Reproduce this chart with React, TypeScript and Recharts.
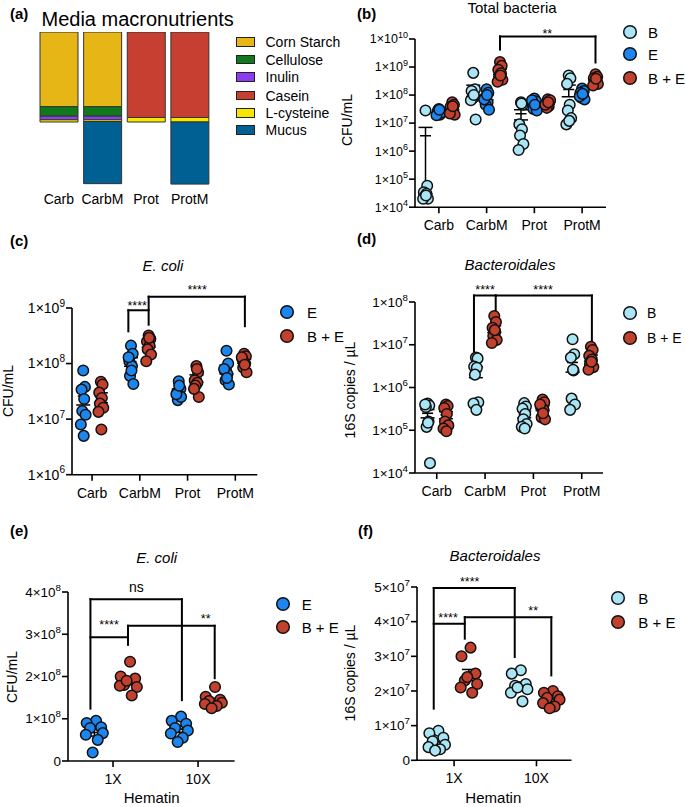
import React from 'react';
import {
  ScatterChart,
  Scatter,
  BarChart,
  Bar,
  XAxis,
  YAxis,
  ReferenceLine,
  ReferenceDot,
  ErrorBar,
} from 'recharts';

const FONT = '"Liberation Sans", Arial, Helvetica, sans-serif';
const INK = '#111';
const COL_B = '#A9E5F4';
const COL_E = '#1C86EE';
const COL_BE = '#C1402E';
const AXIS = { stroke: '#000', strokeWidth: 1.6 };

// ---- (a) media macronutrients (relative amounts) ----
const mediaCats = ['Carb', 'CarbM', 'Prot', 'ProtM'];
const mediaParts = ['Corn Starch', 'Cellulose', 'Inulin', 'Casein', 'L-cysteine', 'Mucus'];
const mediaColors = ['#E6B516', '#10791C', '#8B3DF2', '#C63F30', '#F6E600', '#005F93'];
const cornStarch = [83, 83, 0, 0];
const cellulose = [10.5, 10.5, 0, 0];
const inulin = [4, 4, 0, 0];
const casein = [0, 0, 95, 95];
const lCysteine = [2.5, 2, 5, 5];
const mucus = [0, 69, 0, 69];

// ---- (b) total bacteria, CFU/mL ----
const totalB = [
  [2.8e7, 5.8e4, 3.4e4, 3e4, 2.4e4, 2e4, 2e4, 2.6e4],
  [6.2e8, 1.6e8, 1.4e8, 8.5e7, 7.5e7, 1.35e7, 6.5e7, 1e8],
  [5.5e7, 4.5e7, 9e6, 6e6, 3.6e6, 1.8e6, 1.1e6, 5e7],
  [5e8, 4e8, 2.5e8, 4.5e7, 2.8e7, 1.5e7, 9e6, 1.2e7],
];
const totalE = [
  [3.2e7, 2.6e7, 2.2e7, 2e7, 2.8e7, 2.4e7, 1.9e7, 3e7],
  [1.6e8, 1.2e8, 8e7, 5.5e7, 4.5e7, 3e7, 7e7, 1e8],
  [7.5e7, 6e7, 5e7, 4e7, 3.2e7, 2.8e7, 6.5e7, 4.5e7],
  [1.7e8, 1.4e8, 1.2e8, 1e8, 8e7, 7e7, 9e7, 1.1e8],
];
const totalBE = [
  [5.5e7, 4.5e7, 3.8e7, 3e7, 2.5e7, 2e7, 2.2e7, 4e7],
  [1.5e9, 1.1e9, 8e8, 6e8, 4.5e8, 3.5e8, 3e8, 5e8],
  [7e7, 6e7, 5e7, 4e7, 3.5e7, 6.5e7, 4.5e7, 5.5e7],
  [5.5e8, 4.5e8, 4e8, 3.5e8, 3e8, 2.5e8, 2.2e8, 3.8e8],
];

// ---- (c) E. coli, CFU/mL ----
const ecoliE = [
  [7.5e7, 3.8e7, 3.4e7, 2.3e7, 1.4e7, 1.2e7, 8e6, 5e6],
  [2.1e8, 1.5e8, 1.1e8, 9e7, 6e7, 4.3e7, 1.3e8, 7.5e7],
  [4.8e7, 3.5e7, 3e7, 2.6e7, 2.2e7, 2.5e7, 2.8e7, 4e7],
  [1.7e8, 1e8, 7.5e7, 6.5e7, 5e7, 4.2e7, 8e7, 5.5e7],
];
const ecoliBE = [
  [4.7e7, 4.2e7, 3e7, 2.4e7, 1.9e7, 1.6e7, 1.35e7, 6.5e6],
  [3.2e8, 2.8e8, 2.5e8, 2.1e8, 1.8e8, 1.45e8, 1.1e8, 2.9e8],
  [9e7, 7e7, 5e7, 4.5e7, 4e7, 2.5e7, 3.5e7, 8e7],
  [1.5e8, 1.35e8, 1.2e8, 1e8, 8.5e7, 7e7, 1.3e8, 9.5e7],
];

// ---- (d) Bacteroidales, 16S copies / uL ----
const bactB = [
  [4.2e5, 3.8e5, 3.5e5, 1.6e5, 1.2e5, 1.7e4, 4e5, 1.5e5],
  [5e6, 4.8e6, 3.1e6, 2.9e6, 2e6, 4.5e5, 4.2e5, 3e5],
  [4.3e5, 3.6e5, 3.2e5, 2.4e5, 1.8e5, 1.4e5, 1.2e5, 1.1e5],
  [1.35e7, 6e6, 5e6, 2.5e6, 5.5e5, 4e5, 3e5, 2.6e6],
];
const bactBE = [
  [4e5, 3.7e5, 3.3e5, 2.4e5, 1.6e5, 1.3e5, 1.1e5, 9.5e4],
  [4.7e7, 3.4e7, 2.5e7, 2e7, 1.6e7, 1.3e7, 1.1e7, 2.2e7],
  [5.2e5, 4.5e5, 3.5e5, 3e5, 2e5, 1.8e5, 4e5, 2.5e5],
  [9e6, 7.5e6, 5.5e6, 4.5e6, 3.5e6, 3e6, 2.6e6, 4e6],
];

// ---- (e) / (f) hematin ----
const hematinCats = ['1X', '10X'];
const hemEcoliE = [
  [9.5e7, 9e7, 8e7, 7.8e7, 6.6e7, 6.2e7, 5e7, 2e7],
  [1.05e8, 9.5e7, 8.8e7, 7.8e7, 7.2e7, 6.5e7, 5.5e7, 4.5e7],
];
const hemEcoliBE = [
  [2.35e8, 2e8, 1.95e8, 1.8e8, 1.75e8, 1.78e8, 1.55e8, 1.9e8],
  [1.75e8, 1.52e8, 1.45e8, 1.42e8, 1.38e8, 1.35e8, 1.3e8, 1.25e8],
];
const hemBactB = [
  [8.5e6, 7.8e6, 6.5e6, 5.5e6, 4.5e6, 3.8e6, 3.2e6, 2.8e6],
  [2.6e7, 2.5e7, 2.2e7, 2.15e7, 2.05e7, 1.95e7, 1.7e7, 2.1e7],
];
const hemBactBE = [
  [3.25e7, 3e7, 2.5e7, 2.3e7, 2.2e7, 2.1e7, 1.95e7, 2.4e7],
  [2e7, 1.95e7, 1.85e7, 1.8e7, 1.75e7, 1.65e7, 1.55e7, 1.5e7],
];

// significance brackets: [x1, y1, x2, y2] in axis units
const bracketsB = [
  [2.28, 4.2e9, 2.28, 1.23e10], [2.28, 1.23e10, 4.28, 1.23e10], [4.28, 1.23e10, 4.28, 1.45e9],
];
const starsB = [{ x: 3.27, y: 1.5e10, text: '**' }];
const bracketsC = [
  [1.76, 3.8e8, 1.76, 9.1e8], [1.76, 9.1e8, 2.185, 9.1e8], [2.185, 1.6e9, 2.185, 5e8],
  [2.185, 1.6e9, 4.2, 1.6e9], [4.2, 1.6e9, 4.2, 4.7e8],
];
const starsC = [{ x: 1.944, y: 1.09e9, text: '****' }, { x: 3.2, y: 2.12e9, text: '****' }];
const bracketsD = [
  [1.77, 6.5e6, 1.77, 1.42e8], [1.77, 1.42e8, 2.22, 1.42e8], [2.22, 1.42e8, 2.22, 6e7],
  [2.22, 1.42e8, 4.21, 1.42e8], [4.21, 1.42e8, 4.21, 1.2e7],
];
const starsD = [{ x: 2.0, y: 2e8, text: '****' }, { x: 3.2, y: 2e8, text: '****' }];
const bracketsE = [
  [0.734, 1.24e8, 0.734, 3.83e8], [0.734, 3.83e8, 1.81, 3.83e8], [1.81, 3.83e8, 1.81, 1.44e8],
  [0.734, 2.93e8, 1.176, 2.93e8], [1.176, 3.2e8, 1.176, 2.75e8],
  [1.176, 3.2e8, 2.196, 3.2e8], [2.196, 3.2e8, 2.196, 1.96e8],
];
const starsE = [
  { x: 1.275, y: 4.11e8, text: 'ns', size: 14 },
  { x: 0.953, y: 3.22e8, text: '****' },
  { x: 2.09, y: 3.38e8, text: '**' },
];
const bracketsF = [
  [0.753, 1.49e7, 0.753, 4.97e7], [0.753, 4.97e7, 1.736, 4.97e7], [1.736, 4.97e7, 1.736, 2.98e7],
  [0.753, 3.94e7, 1.13, 3.94e7], [1.13, 4.13e7, 1.13, 3.51e7],
  [1.13, 4.13e7, 2.18, 4.13e7], [2.18, 4.13e7, 2.18, 2.45e7],
];
const starsF = [
  { x: 1.19, y: 5.15e7, text: '****' },
  { x: 0.927, y: 4.12e7, text: '****' },
  { x: 1.96, y: 4.31e7, text: '**' },
];

const JIT_TIGHT = [0, 0.035, -0.035, 0.02, -0.02, 0.05, -0.05, 0.01];
const JIT_WIDE = [0.02, -0.09, 0.08, -0.05, 0.1, -0.1, 0.04, -0.02];

type Group = { name: string; color: string; values: number[][]; offset: number };
type Note = { x: number; y: number; text: string; size?: number };

function mean(v: number[]) {
  return v.reduce((a, b) => a + b, 0) / v.length;
}
function sem(v: number[]) {
  const m = mean(v);
  const sd = Math.sqrt(v.reduce((a, b) => a + (b - m) ** 2, 0) / (v.length - 1));
  return sd / Math.sqrt(v.length);
}

function PowTick(props: any) {
  const { x, y, payload, fs } = props;
  const v = payload.value;
  const base = { x, y, dy: '0.35em', textAnchor: 'end' as const, fontSize: fs, fontFamily: FONT, fill: '#000' };
  if (v === 0) return <text {...base}>0</text>;
  const exp = Math.floor(Math.log10(v) + 1e-9);
  const mant = Math.round(v / 10 ** exp);
  return (
    <text {...base}>
      {mant}×10<tspan dy={-fs * 0.45} fontSize={fs * 0.72}>{exp}</tspan>
    </text>
  );
}

const MeanMark = (props: any) => (
  <line x1={props.cx - 5.5} x2={props.cx + 5.5} y1={props.cy} y2={props.cy} stroke="#000" strokeWidth={1.6} />
);

function dotShape(color: string) {
  return (props: any) => (
    <circle cx={props.cx} cy={props.cy} r={5.3} fill={color} stroke={INK} strokeWidth={1.5} />
  );
}

type PanelProps = {
  x0: number; y0: number; w: number; h: number;
  xDomain: [number, number]; cats: string[];
  yDomain: [number, number]; yTicks: number[]; log?: boolean; tickFont: number;
  groups: Group[]; jitter: number[]; segs: number[][]; notes: Note[];
};

function DotPanel(p: PanelProps) {
  const xTicks = p.cats.map((_, i) => i + 1);
  const floor = p.log ? p.yDomain[0] * 1.05 : -Infinity;
  return (
    <div style={{ position: 'absolute', left: p.x0 - 80, top: p.y0 - 40 }}>
      <ScatterChart width={p.w + 90} height={p.h + 75} margin={{ top: 40, right: 10, bottom: 0, left: 0 }}>
        <XAxis
          type="number" dataKey="x" domain={p.xDomain} ticks={xTicks} allowDataOverflow height={35}
          interval={0} tickFormatter={(v: number) => p.cats[v - 1] ?? ''}
          axisLine={AXIS} tickLine={AXIS} tickSize={6} tickMargin={7}
          tick={{ fill: '#000', fontSize: 14, fontFamily: FONT }}
        />
        <YAxis
          type="number" dataKey="y" scale={p.log ? 'log' : 'linear'} domain={p.yDomain} ticks={p.yTicks}
          allowDataOverflow width={80} interval={0} axisLine={AXIS} tickLine={AXIS} tickSize={6} tickMargin={1}
          tick={(t: any) => <PowTick {...t} fs={p.tickFont} />}
        />
        {p.groups.map((g) => (
          <Scatter
            key={'mean-' + g.name}
            data={g.values.map((vals, ci) => {
              const m = mean(vals);
              const s = sem(vals);
              return { x: ci + 1 + g.offset, y: m, err: [Math.min(s, m - floor), s] };
            })}
            shape={MeanMark}
            isAnimationActive={false}
          >
            <ErrorBar dataKey="err" direction="y" width={7} stroke="#000" strokeWidth={1.5} />
          </Scatter>
        ))}
        {p.groups.map((g) => (
          <Scatter
            key={g.name}
            data={g.values.flatMap((vals, ci) =>
              vals.map((v, i) => ({ x: ci + 1 + g.offset + p.jitter[i % p.jitter.length], y: v })),
            )}
            shape={dotShape(g.color)}
            isAnimationActive={false}
          />
        ))}
        {p.segs.map((s, i) => (
          <ReferenceLine
            key={'seg' + i}
            segment={[{ x: s[0], y: s[1] }, { x: s[2], y: s[3] }]}
            stroke="#000" strokeWidth={2} strokeLinecap="square" ifOverflow="visible"
          />
        ))}
        {p.notes.map((n, i) => (
          <ReferenceDot
            key={'note' + i} x={n.x} y={n.y} r={0} fill="none" stroke="none" ifOverflow="visible"
            label={{ value: n.text, position: 'center', fontSize: n.size ?? 12.5, fill: '#000', fontFamily: FONT }}
          />
        ))}
      </ScatterChart>
    </div>
  );
}

function Txt(props: any) {
  const { x, y, children, size = 15, bold, italic, align = 'center', rotate } = props;
  const tx = align === 'center' ? '-50%' : align === 'left' ? '0' : '-100%';
  return (
    <div
      style={{
        position: 'absolute', left: x, top: y,
        transform: `translate(${tx}, -50%)${rotate ? ` rotate(${rotate}deg)` : ''}`,
        fontFamily: FONT, fontSize: size, fontWeight: bold ? 700 : 400,
        fontStyle: italic ? 'italic' : 'normal', whiteSpace: 'nowrap', lineHeight: 1, color: '#000',
      }}
    >
      {children}
    </div>
  );
}

function DotLegend({ x, ys, textX, items, size = 15 }: { x: number; ys: number[]; textX: number; items: { label: string; color: string }[]; size?: number }) {
  return (
    <>
      {items.map((it, i) => (
        <React.Fragment key={it.label}>
          <svg style={{ position: 'absolute', left: x - 8, top: ys[i] - 8 }} width={16} height={16}>
            <circle cx={8} cy={8} r={6.3} fill={it.color} stroke={INK} strokeWidth={1.5} />
          </svg>
          <Txt x={textX} y={ys[i]} align="left" size={size}>{it.label}</Txt>
        </React.Fragment>
      ))}
    </>
  );
}

const legB = { label: 'B', color: COL_B };
const legE = { label: 'E', color: COL_E };
const legBE = { label: 'B + E', color: COL_BE };

export default function App() {
  const mediaKeys = ['starch', 'cellulose', 'inulin', 'casein', 'cysteine', 'mucus'];
  const mediaRows = mediaCats.map((name, i) => ({
    name,
    starch: cornStarch[i],
    cellulose: cellulose[i],
    inulin: inulin[i],
    casein: casein[i],
    cysteine: lCysteine[i],
    mucus: mucus[i],
  }));

  return (
    <div style={{ position: 'absolute', left: 0, top: 0, width: 685, height: 807, background: '#fff', overflow: 'hidden' }}>
      {/* (a) */}
      <Txt x={10} y={13} bold align="left">(a)</Txt>
      <Txt x={41.5} y={18.5} size={20} align="left">Media macronutrients</Txt>
      <div style={{ position: 'absolute', left: 36.5, top: 32.3 }}>
        <BarChart width={174.5} height={183} data={mediaRows} margin={{ top: 0, right: 0, bottom: 0, left: 0 }}>
          <XAxis
            dataKey="name" axisLine={false} tickLine={false} tickSize={0} tickMargin={9} height={30} interval={0}
            tick={{ fill: '#000', fontSize: 14, fontFamily: FONT }}
          />
          <YAxis hide reversed type="number" domain={[0, 170]} allowDataOverflow />
          {mediaKeys.map((k, i) => (
            <Bar key={k} dataKey={k} stackId="m" fill={mediaColors[i]} stroke="#333" strokeWidth={1} barSize={38} isAnimationActive={false} />
          ))}
        </BarChart>
      </div>
      {mediaParts.map((name, i) => {
        const y = [42, 59.7, 77.3, 95.7, 113, 130][i];
        return (
          <React.Fragment key={name}>
            <div style={{ position: 'absolute', left: 235.5, top: y - 5, width: 17.5, height: 7.5, background: mediaColors[i], border: '1.3px solid #222' }} />
            <Txt x={265.5} y={y} size={14} align="left">{name}</Txt>
          </React.Fragment>
        );
      })}

      {/* (b) */}
      <Txt x={357} y={13} bold align="left">(b)</Txt>
      <Txt x={512} y={7}>Total bacteria</Txt>
      <Txt x={347} y={120} size={14} rotate={-90}>CFU/mL</Txt>
      <DotPanel
        x0={415} y0={38.5} w={191} h={168.2} xDomain={[0.5, 4.5]} cats={mediaCats}
        yDomain={[1e4, 1e10]} yTicks={[1e4, 1e5, 1e6, 1e7, 1e8, 1e9, 1e10]} log tickFont={12.5}
        groups={[
          { name: 'B', color: COL_B, values: totalB, offset: -0.28 },
          { name: 'E', color: COL_E, values: totalE, offset: 0 },
          { name: 'BE', color: COL_BE, values: totalBE, offset: 0.28 },
        ]}
        jitter={JIT_TIGHT} segs={bracketsB} notes={starsB}
      />
      <DotLegend x={630} ys={[32, 54, 78]} textX={648} items={[legB, legE, legBE]} />

      {/* (c) */}
      <Txt x={10} y={240} bold align="left">(c)</Txt>
      <Txt x={163} y={265} italic>E. coli</Txt>
      <Txt x={8} y={391} size={14} rotate={-90}>CFU/mL</Txt>
      <DotPanel
        x0={71.7} y0={308.3} w={185.3} h={166.7} xDomain={[0.58, 4.46]} cats={mediaCats}
        yDomain={[1e6, 1e9]} yTicks={[1e6, 1e7, 1e8, 1e9]} log tickFont={14}
        groups={[
          { name: 'E', color: COL_E, values: ecoliE, offset: -0.185 },
          { name: 'BE', color: COL_BE, values: ecoliBE, offset: 0.185 },
        ]}
        jitter={JIT_TIGHT} segs={bracketsC} notes={starsC}
      />
      <DotLegend x={287} ys={[312, 336]} textX={307} items={[legE, legBE]} />

      {/* (d) */}
      <Txt x={357} y={238} bold align="left">(d)</Txt>
      <Txt x={510} y={264} italic>Bacteroidales</Txt>
      <Txt x={350} y={390} size={14} rotate={-90}>16S copies / µL</Txt>
      <DotPanel
        x0={415} y0={302.3} w={188} h={171} xDomain={[0.55, 4.44]} cats={mediaCats}
        yDomain={[1e4, 1e8]} yTicks={[1e4, 1e5, 1e6, 1e7, 1e8]} log tickFont={13.5}
        groups={[
          { name: 'B', color: COL_B, values: bactB, offset: -0.19 },
          { name: 'BE', color: COL_BE, values: bactBE, offset: 0.19 },
        ]}
        jitter={JIT_TIGHT} segs={bracketsD} notes={starsD}
      />
      <DotLegend x={630} ys={[313.3, 338.3]} textX={647} items={[legB, legBE]} size={14} />

      {/* (e) */}
      <Txt x={10} y={530} bold align="left">(e)</Txt>
      <Txt x={156.7} y={556.7} italic>E. coli</Txt>
      <Txt x={11.7} y={676.7} size={14} rotate={-90}>CFU/mL</Txt>
      <Txt x={151.7} y={796.7}>Hematin</Txt>
      <DotPanel
        x0={68.3} y0={591.7} w={166.6} h={169} xDomain={[0.47, 2.43]} cats={hematinCats}
        yDomain={[0, 4e8]} yTicks={[0, 1e8, 2e8, 3e8, 4e8]} tickFont={13.5}
        groups={[
          { name: 'E', color: COL_E, values: hemEcoliE, offset: -0.22 },
          { name: 'BE', color: COL_BE, values: hemEcoliBE, offset: 0.18 },
        ]}
        jitter={JIT_WIDE} segs={bracketsE} notes={starsE}
      />
      <DotLegend x={283.3} ys={[604, 627.3]} textX={301.7} items={[legE, legBE]} />

      {/* (f) */}
      <Txt x={358} y={530} bold align="left">(f)</Txt>
      <Txt x={495} y={555} italic>Bacteroidales</Txt>
      <Txt x={350} y={673} size={14} rotate={-90}>16S copies / µL</Txt>
      <Txt x={493.3} y={797}>Hematin</Txt>
      <DotPanel
        x0={417.3} y0={586.7} w={154.5} h={173.3} xDomain={[0.55, 2.425]} cats={hematinCats}
        yDomain={[0, 5e7]} yTicks={[0, 1e7, 2e7, 3e7, 4e7, 5e7]} tickFont={13.5}
        groups={[
          { name: 'B', color: COL_B, values: hemBactB, offset: -0.21 },
          { name: 'BE', color: COL_BE, values: hemBactBE, offset: 0.18 },
        ]}
        jitter={JIT_WIDE} segs={bracketsF} notes={starsF}
      />
      <DotLegend x={618.3} ys={[598.3, 621.7]} textX={638.3} items={[legB, legBE]} />
    </div>
  );
}
